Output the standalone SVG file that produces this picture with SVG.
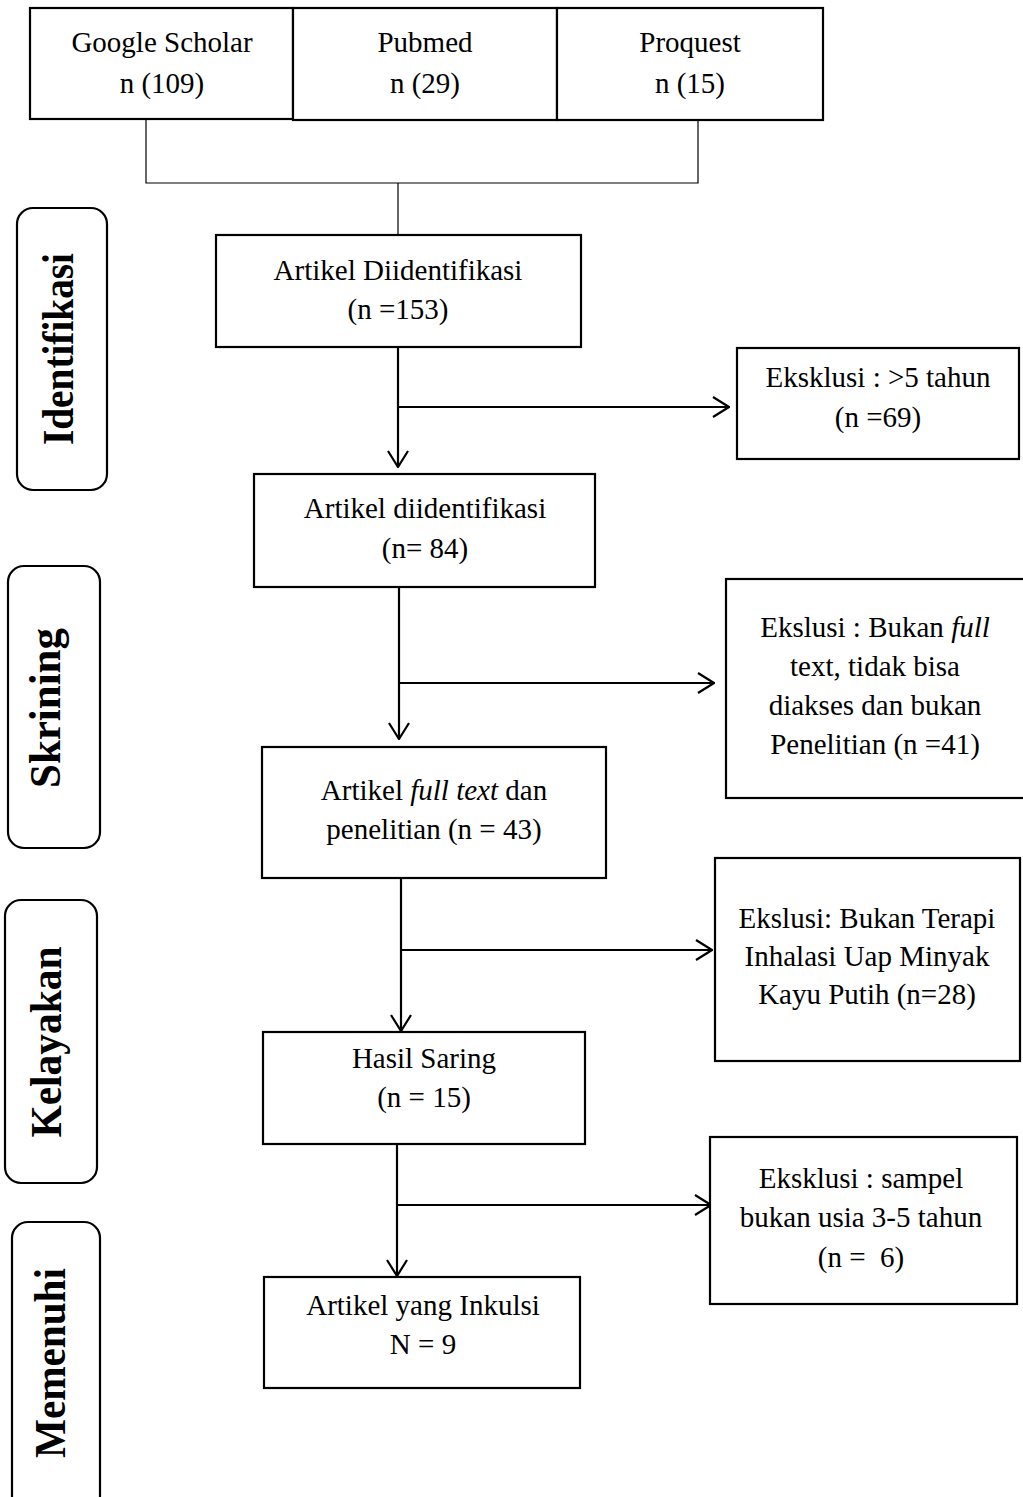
<svg xmlns="http://www.w3.org/2000/svg" width="1023" height="1497" viewBox="0 0 1023 1497">
<defs>
<style>
.box{fill:#fff;stroke:#000;stroke-width:2.2}
.side{fill:#fff;stroke:#000;stroke-width:2.2}
.t{font-family:"Liberation Serif","Times New Roman",serif;font-size:29px;fill:#000;text-anchor:middle}
.s{font-family:"Liberation Serif","Times New Roman",serif;font-size:44px;font-weight:bold;fill:#000;text-anchor:middle}
.thin{stroke:#000;stroke-width:1.2;fill:none}
.ln{stroke:#000;stroke-width:2.2;fill:none}
</style>
<marker id="arr" viewBox="0 0 18 22" refX="17" refY="11" markerWidth="18" markerHeight="22" markerUnits="userSpaceOnUse" orient="auto">
<path d="M1,1 L17,11 L1,21" fill="none" stroke="#000" stroke-width="2.2"/>
</marker>
</defs>
<rect width="1023" height="1497" fill="#fff"/>

<g id="connectors">
<path class="thin" d="M146,120 V183 H698 V121"/>
<path class="thin" d="M398,183 V236"/>
<path class="ln" d="M398,347 V467" marker-end="url(#arr)"/>
<path class="ln" d="M399,407 H729" marker-end="url(#arr)"/>
<path class="ln" d="M399,583 V739" marker-end="url(#arr)"/>
<path class="ln" d="M400,683 H714" marker-end="url(#arr)"/>
<path class="ln" d="M401,878 V1031" marker-end="url(#arr)"/>
<path class="ln" d="M401,950 H712" marker-end="url(#arr)"/>
<path class="ln" d="M397,1144 V1276" marker-end="url(#arr)"/>
<path class="ln" d="M398,1205 H711" marker-end="url(#arr)"/>
</g>

<g id="google">
<rect class="box" x="30" y="8" width="263" height="111"/>
<text class="t" x="162" y="52">Google Scholar</text>
<text class="t" x="162" y="93">n (109)</text>
</g>
<g id="pubmed">
<rect class="box" x="293" y="8" width="264" height="112"/>
<text class="t" x="425" y="52">Pubmed</text>
<text class="t" x="425" y="93">n (29)</text>
</g>
<g id="proquest">
<rect class="box" x="557" y="8" width="266" height="112"/>
<text class="t" x="690" y="52">Proquest</text>
<text class="t" x="690" y="93">n (15)</text>
</g>

<g id="n1">
<rect class="box" x="216" y="235" width="365" height="112"/>
<text class="t" x="398" y="280">Artikel Diidentifikasi</text>
<text class="t" x="398" y="319">(n =153)</text>
</g>
<g id="e1">
<rect class="box" x="737" y="348" width="282" height="111"/>
<text class="t" x="878" y="387">Eksklusi : &gt;5 tahun</text>
<text class="t" x="878" y="427">(n =69)</text>
</g>
<g id="n2">
<rect class="box" x="254" y="474" width="341" height="113"/>
<text class="t" x="425" y="518">Artikel diidentifikasi</text>
<text class="t" x="425" y="558">(n= 84)</text>
</g>
<g id="e2">
<rect class="box" x="726" y="579" width="300" height="219"/>
<text class="t" x="875" y="637">Ekslusi : Bukan <tspan font-style="italic">full</tspan></text>
<text class="t" x="875" y="676">text, tidak bisa</text>
<text class="t" x="875" y="715">diakses dan bukan</text>
<text class="t" x="875" y="754">Penelitian (n =41)</text>
</g>
<g id="n3">
<rect class="box" x="262" y="747" width="344" height="131"/>
<text class="t" x="434" y="800">Artikel <tspan font-style="italic">full text</tspan> dan</text>
<text class="t" x="434" y="839">penelitian (n = 43)</text>
</g>
<g id="e3">
<rect class="box" x="715" y="858" width="305" height="203"/>
<text class="t" x="867" y="928">Ekslusi: Bukan Terapi</text>
<text class="t" x="867" y="966">Inhalasi Uap Minyak</text>
<text class="t" x="867" y="1004">Kayu Putih (n=28)</text>
</g>
<g id="n4">
<rect class="box" x="263" y="1032" width="322" height="112"/>
<text class="t" x="424" y="1068">Hasil Saring</text>
<text class="t" x="424" y="1107">(n = 15)</text>
</g>
<g id="e4">
<rect class="box" x="710" y="1137" width="307" height="167"/>
<text class="t" x="861" y="1188">Eksklusi : sampel</text>
<text class="t" x="861" y="1227">bukan usia 3-5 tahun</text>
<text class="t" x="861" y="1267" xml:space="preserve">(n =  6)</text>
</g>
<g id="n5">
<rect class="box" x="264" y="1277" width="316" height="111"/>
<text class="t" x="423" y="1315">Artikel yang Inkulsi</text>
<text class="t" x="423" y="1354">N = 9</text>
</g>

<g id="identifikasi">
<rect class="side" x="17" y="208" width="90" height="282" rx="16"/>
<text class="s" transform="translate(73,349) rotate(-90)" textLength="192" lengthAdjust="spacingAndGlyphs">Identifikasi</text>
</g>
<g id="skrining">
<rect class="side" x="8" y="566" width="92" height="282" rx="16"/>
<text class="s" transform="translate(60,708) rotate(-90)" textLength="160" lengthAdjust="spacingAndGlyphs">Skrining</text>
</g>
<g id="kelayakan">
<rect class="side" x="5" y="900" width="92" height="283" rx="16"/>
<text class="s" transform="translate(61,1042) rotate(-90)" textLength="191" lengthAdjust="spacingAndGlyphs">Kelayakan</text>
</g>
<g id="memenuhi">
<rect class="side" x="12" y="1222" width="88" height="290" rx="16"/>
<text class="s" transform="translate(65,1363) rotate(-90)" textLength="190" lengthAdjust="spacingAndGlyphs">Memenuhi</text>
</g>
</svg>
